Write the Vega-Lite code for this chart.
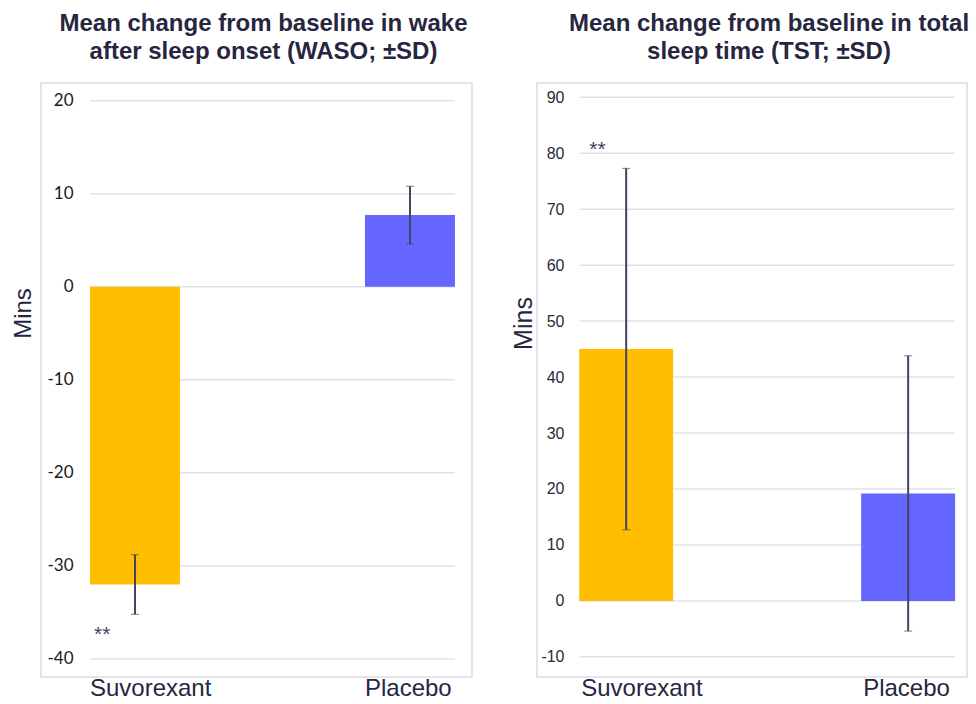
{
  "$schema": "https://vega.github.io/schema/vega-lite/v6.json",
  "background": "white",
  "padding": {"left": 11, "top": 11, "right": 5, "bottom": 5},
  "datasets": {
    "waso": [
      {"group": "Suvorexant", "mean": -32.0, "sd": 3.2},
      {"group": "Placebo", "mean": 7.7, "sd": 3.1}
    ],
    "waso_grid": [{"v": 20}, {"v": 10}, {"v": 0}, {"v": -10}, {"v": -20}, {"v": -30}, {"v": -40}],
    "waso_sig": [{"group": "Suvorexant", "y": -37.1, "label": "**"}],
    "tst": [
      {"group": "Suvorexant", "mean": 45.0, "sd": 32.3},
      {"group": "Placebo", "mean": 19.2, "sd": 24.6}
    ],
    "tst_grid": [{"v": 90}, {"v": 80}, {"v": 70}, {"v": 60}, {"v": 50}, {"v": 40}, {"v": 30}, {"v": 20}, {"v": 10}, {"v": 0}, {"v": -10}],
    "tst_sig": [{"group": "Suvorexant", "y": 81.2, "label": "**"}]
  },
  "config": {
    "view": {"stroke": "#dcdce4", "strokeWidth": 1.5},
    "concat": {"spacing": 65},
    "title": {"font": "Liberation Sans", "fontSize": 24, "fontWeight": "bold", "color": "#262640", "lineHeight": 28, "anchor": "middle"}
  },
  "bounds": "flush",
  "hconcat": [
    {
      "width": 431,
      "height": 594,
      "title": {"text": ["Mean change from baseline in wake", "after sleep onset (WASO; ±SD)"], "dx": 7, "offset": 19},
      "layer": [
        {
          "data": {"name": "waso_grid"},
          "mark": {"type": "rule", "color": "#e2e2e8", "strokeWidth": 1.5},
          "encoding": {
            "x": {"datum": "Suvorexant", "type": "nominal", "bandPosition": 0},
            "x2": {"datum": "Placebo", "bandPosition": 1},
            "y": {"field": "v", "type": "quantitative", "title": "Mins"}
          }
        },
        {
          "data": {"name": "waso"},
          "mark": {"type": "bar"},
          "encoding": {
            "x": {
              "field": "group", "type": "nominal", "sort": ["Suvorexant", "Placebo"],
              "scale": {"domain": ["Suvorexant", "Placebo"], "paddingInner": 0.6727, "paddingOuter": 0.12, "align": 0.742},
              "axis": {"title": null, "domain": false, "ticks": false, "labelAngle": 0, "labelAlign": "left", "labelOffset": -45, "labelFont": "Liberation Sans", "labelFontSize": 24, "labelColor": "#262640", "labelPadding": 11}
            },
            "y": {
              "field": "mean", "type": "quantitative", "title": "Mins",
              "scale": {"domain": [-41.94, 21.9], "nice": false, "zero": false},
              "axis": {"values": [20, 10, 0, -10, -20, -30, -40], "labelExpr": "datum.value", "grid": false, "domain": false, "ticks": false, "offset": -34, "labelPadding": 2, "labelFont": "Lato", "labelFontSize": 17, "labelColor": "#1a1a1a", "titleFont": "Liberation Sans", "titleFontSize": 24, "titleFontWeight": "normal", "titleColor": "#262640", "titlePadding": 11, "titleY": 230}
            },
            "color": {"field": "group", "type": "nominal", "legend": null, "scale": {"domain": ["Suvorexant", "Placebo"], "range": ["#FFBF00", "#6565FF"]}}
          }
        },
        {
          "data": {"name": "waso"},
          "mark": {"type": "errorbar", "ticks": {"size": 8, "color": "#44445e", "strokeWidth": 2}, "rule": {"color": "#44445e", "strokeWidth": 2}},
          "encoding": {
            "x": {"field": "group", "type": "nominal"},
            "y": {"field": "mean", "type": "quantitative", "title": "Mins"},
            "yError": {"field": "sd"}
          }
        },
        {
          "data": {"name": "waso_sig"},
          "mark": {"type": "text", "align": "left", "baseline": "middle", "dx": 4, "dy": 3, "fontSize": 21, "font": "Liberation Sans", "color": "#44445e"},
          "encoding": {
            "x": {"field": "group", "type": "nominal", "bandPosition": 0},
            "y": {"field": "y", "type": "quantitative", "title": "Mins"},
            "text": {"field": "label"}
          }
        }
      ]
    },
    {
      "width": 430,
      "height": 594,
      "title": {"text": ["Mean change from baseline in total", "sleep time (TST; ±SD)"], "dx": 17, "offset": 19},
      "layer": [
        {
          "data": {"name": "tst_grid"},
          "mark": {"type": "rule", "color": "#e2e2ec", "strokeWidth": 1.5},
          "encoding": {
            "x": {"datum": "Suvorexant", "type": "nominal", "bandPosition": 0},
            "x2": {"datum": "Placebo", "bandPosition": 1},
            "y": {"field": "v", "type": "quantitative", "title": "Mins"}
          }
        },
        {
          "data": {"name": "tst"},
          "mark": {"type": "bar"},
          "encoding": {
            "x": {
              "field": "group", "type": "nominal", "sort": ["Suvorexant", "Placebo"],
              "scale": {"domain": ["Suvorexant", "Placebo"], "paddingInner": 0.667, "paddingOuter": 0.096, "align": 0.78},
              "axis": {"title": null, "domain": false, "ticks": false, "labelAngle": 0, "labelAlign": "left", "labelOffset": -45, "labelFont": "Liberation Sans", "labelFontSize": 24, "labelColor": "#262640", "labelPadding": 11}
            },
            "y": {
              "field": "mean", "type": "quantitative", "title": "Mins",
              "scale": {"domain": [-13.6, 92.55], "nice": false, "zero": false},
              "axis": {"values": [90, 80, 70, 60, 50, 40, 30, 20, 10, 0, -10], "labelExpr": "datum.value", "grid": false, "domain": false, "ticks": false, "offset": -29, "labelPadding": 2, "labelFont": "Liberation Sans", "labelFontSize": 16, "labelColor": "#2a2a3a", "titleFont": "Liberation Sans", "titleFontSize": 25, "titleFontWeight": "normal", "titleColor": "#262640", "titlePadding": 4, "titleY": 240}
            },
            "color": {"field": "group", "type": "nominal", "legend": null, "scale": {"domain": ["Suvorexant", "Placebo"], "range": ["#FFBF00", "#6565FF"]}}
          }
        },
        {
          "data": {"name": "tst"},
          "mark": {"type": "errorbar", "ticks": {"size": 8, "color": "#44445e", "strokeWidth": 2}, "rule": {"color": "#44445e", "strokeWidth": 2}},
          "encoding": {
            "x": {"field": "group", "type": "nominal"},
            "y": {"field": "mean", "type": "quantitative", "title": "Mins"},
            "yError": {"field": "sd"}
          }
        },
        {
          "data": {"name": "tst_sig"},
          "mark": {"type": "text", "align": "left", "baseline": "middle", "dx": 10, "dy": 3, "fontSize": 21, "font": "Liberation Sans", "color": "#44445e"},
          "encoding": {
            "x": {"field": "group", "type": "nominal", "bandPosition": 0},
            "y": {"field": "y", "type": "quantitative", "title": "Mins"},
            "text": {"field": "label"}
          }
        }
      ]
    }
  ]
}
